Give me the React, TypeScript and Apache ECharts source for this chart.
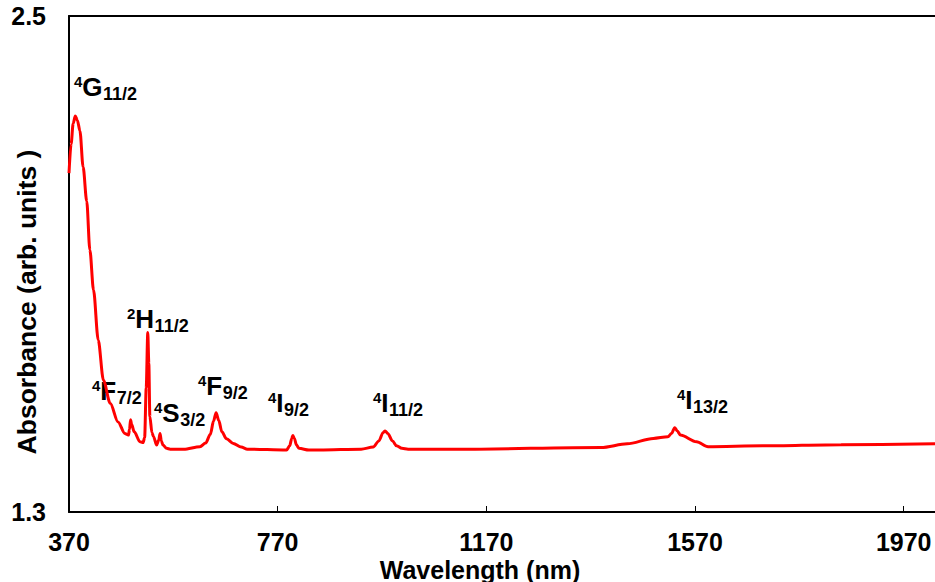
import { useEffect, useRef } from "react";
import * as echarts from "echarts";

// Wavelength (nm) and absorbance (arb. units)
const wavelengthNm = [
  370, 374, 378, 382, 386, 391, 397, 404, 410, 417, 426, 436, 449, 464, 477, 484, 486, 488, 490,
  495, 506, 512, 515, 518, 521, 523, 525, 529, 532, 538, 542, 544.5, 547, 550, 557, 564, 590, 621,
  632, 641, 647, 652, 657, 663, 672, 685, 700, 712, 787, 793, 797, 799, 802, 806, 811, 830, 851,
  930, 953, 964, 972, 976, 981, 990, 998, 1008, 1020, 1120, 1390, 1440, 1490, 1518, 1525, 1531,
  1536, 1542, 1573, 1595, 1700, 1850, 2030,
];
const absorbance = [
  2.12, 2.19, 2.24, 2.258, 2.248, 2.222, 2.135, 2.052, 1.934, 1.837, 1.716, 1.619, 1.563, 1.518,
  1.49, 1.486, 1.5, 1.523, 1.512, 1.494, 1.47, 1.468, 1.48, 1.6, 1.734, 1.66, 1.531, 1.492, 1.482,
  1.462, 1.474, 1.49, 1.472, 1.462, 1.454, 1.452, 1.452, 1.458, 1.467, 1.488, 1.52, 1.54, 1.522,
  1.494, 1.477, 1.466, 1.457, 1.452, 1.45, 1.46, 1.478, 1.485, 1.478, 1.462, 1.454, 1.45, 1.45,
  1.452, 1.457, 1.472, 1.492, 1.496, 1.49, 1.472, 1.46, 1.454, 1.452, 1.452, 1.456, 1.465, 1.478,
  1.482, 1.49, 1.504, 1.496, 1.486, 1.47, 1.458, 1.46, 1.463, 1.465,
];
const xTickValues = [370, 770, 1170, 1570, 1970];
const yTickValues = [1.3, 2.5];

// Transition labels: superscript, term letter, subscript
const labelSup = ["4", "2", "4", "4", "4", "4", "4", "4"];
const labelMain = ["G", "H", "F", "S", "F", "I", "I", "I"];
const labelSub = ["11/2", "11/2", "7/2", "3/2", "9/2", "9/2", "11/2", "13/2"];

// Layout (pixel positions of labels: left edge, centre of the capital letter)
const labelPos: [number, number][] = [
  [74, 87],
  [127, 319],
  [92, 391],
  [154, 413],
  [198, 386],
  [268, 403],
  [373, 403],
  [677, 400],
];

const FONT = "'Liberation Sans', Arial, Helvetica, sans-serif";
const SUP_SIZE = 15;
const MAIN_SIZE = 26;
const SUB_SIZE = 18;

function measure(text: string, size: number): number {
  const c = document.createElement("canvas");
  const ctx = c.getContext("2d");
  if (!ctx) return text.length * size * 0.55;
  ctx.font = `bold ${size}px ${FONT}`;
  return ctx.measureText(text).width;
}

function txt(text: string, x: number, y: number, size: number) {
  return {
    type: "text",
    x,
    y,
    silent: true,
    style: {
      text,
      align: "left",
      verticalAlign: "middle",
      fontFamily: FONT,
      fontWeight: "bold",
      fontSize: size,
      fill: "#000",
    },
  };
}

export default function App() {
  const ref = useRef<HTMLDivElement>(null);

  useEffect(() => {
    if (!ref.current) return;
    const chart = echarts.init(ref.current, undefined, { renderer: "svg" });
    const data = wavelengthNm.map((w, i) => [w, absorbance[i]]);

    const labelGraphics: any[] = [];
    labelMain.forEach((m, i) => {
      const [x0, yc] = labelPos[i];
      const wSup = measure(labelSup[i], SUP_SIZE);
      const wMain = measure(m, MAIN_SIZE);
      labelGraphics.push(txt(labelSup[i], x0, yc - 6, SUP_SIZE));
      labelGraphics.push(txt(m, x0 + wSup, yc, MAIN_SIZE));
      labelGraphics.push(txt(labelSub[i], x0 + wSup + wMain + 0.5, yc + 7, SUB_SIZE));
    });

    chart.setOption({
      animation: false,
      backgroundColor: "#fff",
      grid: { left: 69, top: 16, right: 0, bottom: 70, containLabel: false },
      xAxis: [
        {
          type: "value",
          min: 370,
          max: 2030,
          position: "bottom",
          axisLine: { show: true, onZero: false, lineStyle: { color: "#000", width: 2 } },
          axisTick: { show: true, inside: true, length: 6, customValues: xTickValues, lineStyle: { color: "#000", width: 1 } },
          axisLabel: {
            customValues: xTickValues,
            formatter: (v: number) => String(v),
            margin: 30,
            verticalAlign: "middle",
            color: "#000",
            fontFamily: FONT,
            fontWeight: "bold",
            fontSize: 25,
          },
          splitLine: { show: false },
        },
        {
          type: "value",
          min: 370,
          max: 2030,
          position: "top",
          axisLine: { show: true, onZero: false, lineStyle: { color: "#000", width: 2 } },
          axisTick: { show: false },
          axisLabel: { show: false },
          splitLine: { show: false },
        },
      ],
      yAxis: {
        type: "value",
        min: 1.3,
        max: 2.5,
        axisLine: { show: true, onZero: false, lineStyle: { color: "#000", width: 2 } },
        axisTick: { show: false },
        axisLabel: {
          customValues: yTickValues,
          formatter: (v: number) => v.toFixed(1),
          margin: 23,
          verticalAlign: "middle",
          color: "#000",
          fontFamily: FONT,
          fontWeight: "bold",
          fontSize: 25,
        },
        splitLine: { show: false },
      },
      series: [
        {
          type: "line",
          data,
          xAxisIndex: 0,
          showSymbol: false,
          smooth: 0.3,
          smoothMonotone: "x",
          lineStyle: { color: "#ff0000", width: 3 },
          itemStyle: { color: "#ff0000" },
        },
      ],
      graphic: [
        {
          type: "text",
          x: 480,
          y: 570,
          silent: true,
          style: {
            text: "Wavelength (nm)",
            align: "center",
            verticalAlign: "middle",
            fontFamily: FONT,
            fontWeight: "bold",
            fontSize: 25,
            fill: "#000",
          },
        },
        {
          type: "text",
          x: 27,
          y: 302,
          rotation: Math.PI / 2,
          silent: true,
          style: {
            text: "Absorbance (arb. units )",
            align: "center",
            verticalAlign: "middle",
            fontFamily: FONT,
            fontWeight: "bold",
            fontSize: 26.5,
            fill: "#000",
          },
        },
        ...labelGraphics,
      ],
    });

    return () => chart.dispose();
  }, []);

  return (
    <div
      ref={ref}
      style={{ position: "fixed", left: 0, top: 0, width: 935, height: 582 }}
    />
  );
}
